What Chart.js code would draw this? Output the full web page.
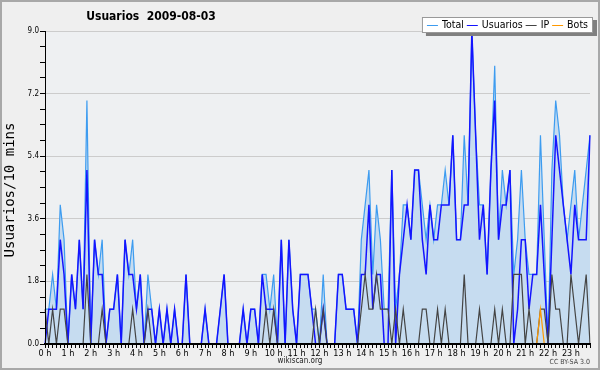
<!DOCTYPE html>
<html><head><meta charset="utf-8">
<script src="https://cdn.jsdelivr.net/npm/chart.js@4.4.1/dist/chart.umd.min.js"></script>
<style>html,body{margin:0;padding:0;background:#efefef;}canvas{display:block;}</style>
</head><body>
<canvas id="c" width="600" height="370"></canvas>
<script>
const chartTitle = "Usuarios  2009-08-03";
const yAxisTitle = "Usuarios/10 mins";
const hourLabels = ["0 h","1 h","2 h","3 h","4 h","5 h","6 h","7 h","8 h","9 h","10 h","11 h","12 h","13 h","14 h","15 h","16 h","17 h","18 h","19 h","20 h","21 h","22 h","23 h"];
const minuteSlots = ["00","10","20","30","40","50"];
const yTickValues = [0.0, 1.8, 3.6, 5.4, 7.2, 9.0];
const yTickLabels = ["0.0","1.8","3.6","5.4","7.2","9.0"];
const seriesNames = ["Total","Usuarios","IP","Bots"];

const total = [1,1,2,1,4,3, 0,2,1,3,1,7, 0,3,2,3,0,1, 1,2,0,3,2,3,
  1,2,0,2,1,0, 1,0,1,0,1,0, 0,2,0,0,0,0, 1,0,0,0,1,2,
  0,0,0,0,1,0, 1,1,0,2,2,1, 2,0,3,0,3,1, 0,2,2,2,1,1,
  0,2,0,0,0,2, 2,1,1,1,0,3, 4,5,2,4,3,1, 1,5,1,2,4,4,
  3,5,5,4,3,4, 3,4,4,5,4,6, 3,3,6,4,9,6, 4,4,2,5,8,3,
  5,4,5,2,3,5, 3,2,2,2,6,3, 0,5,7,6,4,3, 4,5,3,4,5,6];
const usuarios = [0,1,1,1,3,2, 0,2,1,3,1,5, 0,3,2,2,0,1, 1,2,0,3,2,2,
  1,2,0,1,1,0, 1,0,1,0,1,0, 0,2,0,0,0,0, 1,0,0,0,1,2,
  0,0,0,0,1,0, 1,1,0,2,1,1, 1,0,3,0,3,1, 0,2,2,2,1,0,
  0,1,0,0,0,2, 2,1,1,1,0,2, 2,4,1,2,2,0, 0,5,0,2,3,4,
  3,5,5,3,2,4, 3,3,4,4,4,6, 3,3,4,4,9,6, 3,4,2,5,7,3,
  4,4,5,0,1,3, 3,1,2,2,4,2, 0,3,6,5,4,3, 2,4,3,3,3,6];
const ip = [1,0,1,0,1,1, 0,0,0,0,0,2, 0,0,0,1,0,0, 0,0,0,0,0,1,
  0,0,0,1,0,0, 0,0,0,0,0,0, 0,0,0,0,0,0, 0,0,0,0,0,0,
  0,0,0,0,0,0, 0,0,0,0,1,0, 1,0,0,0,0,0, 0,0,0,0,0,1,
  0,1,0,0,0,0, 0,0,0,0,0,1, 2,1,1,2,1,1, 1,0,1,0,1,0,
  0,0,0,1,1,0, 0,1,0,1,0,0, 0,0,2,0,0,0, 1,0,0,0,1,0,
  1,0,0,2,2,2, 0,1,0,0,1,1, 0,2,1,1,0,0, 2,1,0,1,2,0];
const bots = [0,0,0,0,0,0, 0,0,0,0,0,0, 0,0,0,0,0,0, 0,0,0,0,0,0,
  0,0,0,0,0,0, 0,0,0,0,0,0, 0,0,0,0,0,0, 0,0,0,0,0,0,
  0,0,0,0,0,0, 0,0,0,0,0,0, 0,0,0,0,0,0, 0,0,0,0,0,0,
  0,0,0,0,0,0, 0,0,0,0,0,0, 0,0,0,0,0,0, 0,0,0,0,0,0,
  0,0,0,0,0,0, 0,0,0,0,0,0, 0,0,0,0,0,0, 0,0,0,0,0,0,
  0,0,0,0,0,0, 0,0,0,0,1,0, 0,0,0,0,0,0, 0,0,0,0,0,0];

const categories = [];
hourLabels.forEach(h => minuteSlots.forEach(m => categories.push(h + " " + m)));

const FONT = '"DejaVu Sans Condensed","DejaVu Sans",sans-serif';

const deco = {
  id: 'deco',
  beforeDraw(chart) {
    const {ctx, chartArea: a} = chart;
    ctx.save();
    ctx.fillStyle = '#efefef';
    ctx.fillRect(0, 0, chart.width, chart.height);
    ctx.fillStyle = '#eef0f2';
    ctx.fillRect(a.left, a.top, a.right - a.left, a.bottom - a.top);
    ctx.restore();
  },
  afterDraw(chart) {
    const {ctx} = chart;
    ctx.save();
    ctx.fillStyle = '#000';
    ctx.font = 'bold 12px ' + FONT;
    ctx.textAlign = 'center';
    ctx.textBaseline = 'middle';
    ctx.fillText(chartTitle, 151, 17);
    ctx.save();
    ctx.translate(10, 190);
    ctx.rotate(-Math.PI / 2);
    ctx.font = '14px "DejaVu Sans Mono",monospace';
    ctx.fillText(yAxisTitle, 0, 0);
    ctx.restore();
    ctx.font = '8px ' + FONT;
    ctx.fillStyle = '#222';
    ctx.fillText('wikiscan.org', 300, 361);
    ctx.font = '7px ' + FONT;
    ctx.textAlign = 'right';
    ctx.fillStyle = '#444';
    ctx.fillText('CC BY-SA 3.0', 590, 362);
    ctx.font = '10.5px ' + FONT;
    ctx.textAlign = 'left';
    const ds = chart.data.datasets;
    const lineW = 11, gap1 = 4, gap2 = 3;
    let w = 0;
    const tws = ds.map(d => ctx.measureText(d.label).width);
    tws.forEach((tw, i) => { w += lineW + gap1 + tw + (i < tws.length - 1 ? gap2 : 0); });
    const boxR = 593, boxT = 17, boxB = 33;
    const boxL = boxR - w - 10;
    ctx.fillStyle = '#808080';
    ctx.fillRect(boxL + 4, boxT + 3, boxR - boxL, boxB - boxT);
    ctx.fillStyle = '#ffffff';
    ctx.fillRect(boxL, boxT, boxR - boxL, boxB - boxT);
    ctx.strokeStyle = '#999';
    ctx.lineWidth = 1;
    ctx.strokeRect(boxL + 0.5, boxT + 0.5, boxR - boxL - 1, boxB - boxT - 1);
    let x = boxL + 5;
    const y = 25;
    ds.forEach((d, i) => {
      ctx.strokeStyle = d.borderColor;
      ctx.lineWidth = 1;
      ctx.beginPath();
      ctx.moveTo(x, y + 0.5);
      ctx.lineTo(x + lineW, y + 0.5);
      ctx.stroke();
      ctx.fillStyle = '#000';
      ctx.textBaseline = 'middle';
      ctx.fillText(d.label, x + lineW + gap1, y);
      x += lineW + gap1 + tws[i] + gap2;
    });
    ctx.strokeStyle = '#a8a8a8';
    ctx.lineWidth = 2;
    ctx.strokeRect(1, 1, chart.width - 2, chart.height - 2);
    ctx.restore();
  }
};

new Chart(document.getElementById('c'), {
  type: 'line',
  data: {
    labels: categories,
    datasets: [
      {label: seriesNames[0], data: total, borderColor: '#3d9cf0', backgroundColor: '#c6dcf0', fill: 'origin', borderWidth: 1.2, pointRadius: 0, tension: 0, order: 3},
      {label: seriesNames[1], data: usuarios, borderColor: '#1414ff', borderWidth: 1.5, pointRadius: 0, tension: 0, fill: false, order: 2},
      {label: seriesNames[2], data: ip, borderColor: '#444444', borderWidth: 1.2, pointRadius: 0, tension: 0, fill: false, order: 1},
      {label: seriesNames[3], data: bots, borderColor: '#ff9900', borderWidth: 1.2, pointRadius: 0, tension: 0, fill: false, order: 0}
    ]
  },
  options: {
    responsive: false,
    animation: false,
    events: [],
    layout: {padding: {left: 0, right: 10, top: 31, bottom: 0}},
    plugins: {legend: {display: false}, title: {display: false}, tooltip: {enabled: false}},
    scales: {
      x: {
        type: 'category',
        offset: false,
        afterFit(s) { s.height = 26; },
        grid: {drawOnChartArea: false, drawTicks: true, tickLength: 4, tickColor: '#000', lineWidth: 1},
        border: {display: true, color: '#000', width: 2, z: 1},
        ticks: {
          autoSkip: false, maxRotation: 0, minRotation: 0, padding: 0,
          color: '#000', font: {family: FONT, size: 9},
          callback: (v, i) => (i % 6 === 0 ? hourLabels[i / 6] : '')
        }
      },
      y: {
        min: 0, max: 9,
        afterFit(s) { s.width = 45; },
        grid: {
          drawTicks: true, tickLength: 5, tickColor: '#000',
          color: (c) => {
            const v = c.tick ? c.tick.value : 0;
            const major = yTickValues.some(t => Math.abs(t - v) < 1e-6);
            return (major && v > 0.01) ? '#cccccc' : 'rgba(0,0,0,0)';
          }
        },
        border: {display: true, color: '#000', width: 1, z: 1},
        ticks: {
          stepSize: 0.45, autoSkip: false, padding: 1,
          color: '#000', font: {family: FONT, size: 8},
          callback: (v) => {
            const k = yTickValues.findIndex(t => Math.abs(t - v) < 1e-6);
            return k >= 0 ? yTickLabels[k] : '';
          }
        }
      }
    }
  },
  plugins: [deco]
});
</script>
</body></html>
